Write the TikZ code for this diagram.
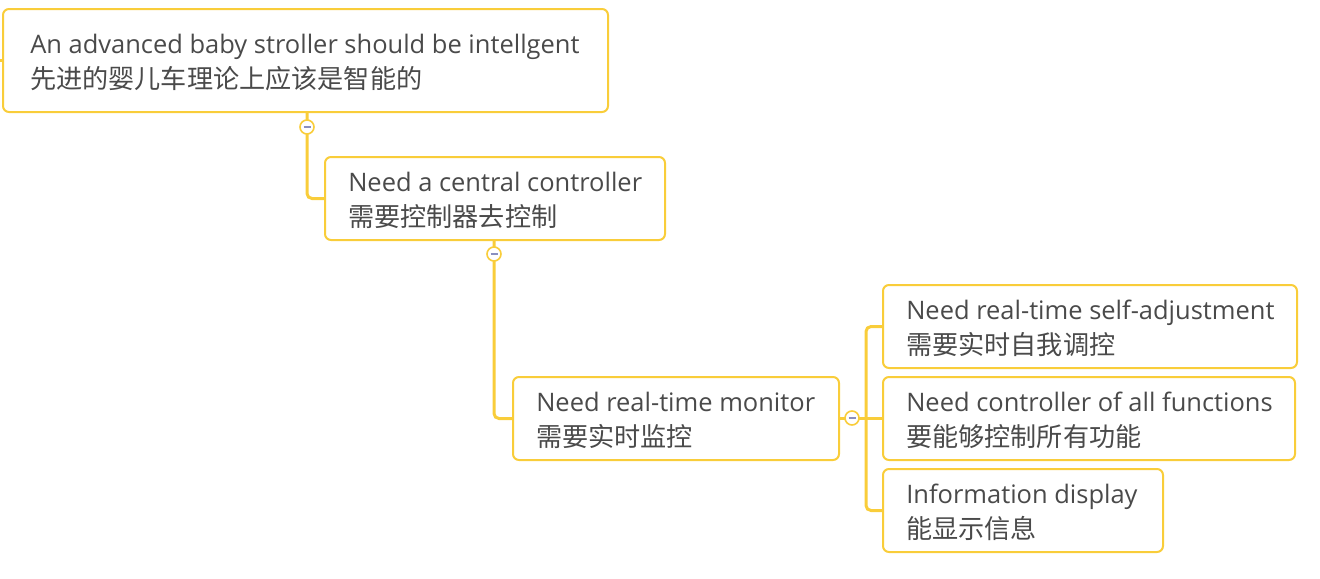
\documentclass[tikz,border=0pt]{standalone}
\usepackage{fontspec}
\setmainfont{Open Sans}
\newfontfamily\cjk{Noto Sans CJK SC}
\def\u{0.75pt}
\definecolor{ylw}{HTML}{F9CD3A}
\definecolor{txt}{HTML}{4A4A4A}
\definecolor{minuscol}{HTML}{8A8FBF}
\tikzset{
  box/.style={draw=ylw, line width=2*\u, rounded corners=6*\u, fill=white, inner sep=0, outer sep=0},
  conn/.style={draw=ylw, line width=3*\u, rounded corners=5*\u},
  lbl/.style={anchor=base west, inner sep=0, text=txt, font=\fontsize{19.1pt}{23pt}\selectfont},
  zh/.style={lbl, font=\fontsize{19.6pt}{23pt}\selectfont\cjk},
  circ/.style={circle, draw=ylw, fill=white, line width=1.6*\u, minimum size=14*\u, inner sep=0,
    path picture={\draw[minuscol, line width=1.6*\u] ([xshift=-3.5*\u]path picture bounding box.center) -- ([xshift=3.5*\u]path picture bounding box.center);}}
}
\begin{document}
\begin{tikzpicture}[x=0.75pt, y=-0.75pt]
\useasboundingbox (0,0) rectangle (1320,578);
% boxes
\node[box, minimum width=605*\u, minimum height=103*\u] (top) at (305.5,60.5) {};
\node[box, minimum width=340*\u, minimum height=83*\u] (n2) at (495,198.5) {};
\node[box, minimum width=326*\u, minimum height=83*\u] (n3) at (676,418.5) {};
\node[box, minimum width=414*\u, minimum height=83*\u] (n4) at (1090,326.5) {};
\node[box, minimum width=412*\u, minimum height=83*\u] (n5) at (1089,418.5) {};
\node[box, minimum width=280*\u, minimum height=83*\u] (n6) at (1023,510.5) {};
% labels
\node[lbl] (t1a) at (30,53) {An advanced baby stroller should be intellgent};
\node[zh]  (t1b) at (30,88) {先进的婴儿车理论上应该是智能的};
\node[lbl] (t2a) at (348,191) {Need a central controller};
\node[zh]  (t2b) at (348,226) {需要控制器去控制};
\node[lbl] (t3a) at (536,411) {Need real-time monitor};
\node[zh]  (t3b) at (536,446) {需要实时监控};
\node[lbl] (t4a) at (906,319) {Need real-time self-adjustment};
\node[zh]  (t4b) at (906,354) {需要实时自我调控};
\node[lbl] (t5a) at (906,411) {Need controller of all functions};
\node[zh]  (t5b) at (906,446) {要能够控制所有功能};
\node[lbl] (t6a) at (906,503) {Information display};
\node[zh]  (t6b) at (906,538) {能显示信息};
% connector anchors
\coordinate (c1p) at (307,127);
\coordinate (c2p) at (494,254);
\coordinate (c3p) at (852,418);
\coordinate (bus) at (866,418);
\coordinate (stub) at (0,60.5);
% connectors
\draw[conn] (stub) -- (top.west);
\draw[conn] (top.south -| c1p) -- (c1p) |- (n2.west);
\draw[conn] (n2.south -| c2p) -- (c2p) |- (n3.west);
\draw[conn] (n3.east) -- (n5.west);
\draw[conn] (n4.west) -| (bus) |- (n6.west);
% collapse buttons
\node[circ] (c1) at (c1p) {};
\node[circ] (c2) at (c2p) {};
\node[circ] (c3) at (c3p) {};
\end{tikzpicture}
\end{document}
